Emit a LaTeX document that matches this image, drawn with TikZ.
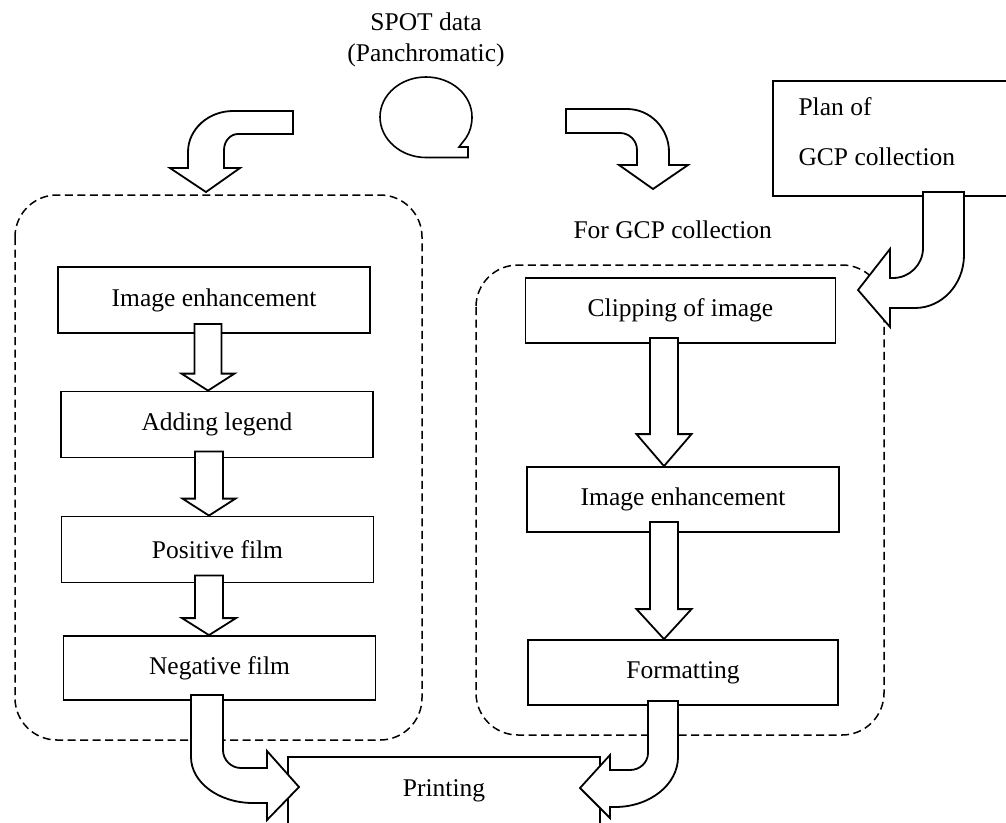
\documentclass[tikz,border=0pt]{standalone}
\usepackage{fontspec}
\setmainfont{Liberation Serif}
\usetikzlibrary{calc}

\newcommand\boxfont{\fontsize{25.5}{31}\selectfont}

\tikzset{
  stepbox/.style={draw, line width=1.8pt, fill=white, minimum width=312pt,
    minimum height=66pt, font=\boxfont, inner sep=0pt},
  groupframe/.style={draw, line width=1.5pt, dash pattern=on 8pt off 4.5pt,
    rounded corners=42pt},
  blockarrow/.style={draw, line width=1.8pt, fill=white, line join=miter},
  tapeline/.style={draw, line width=1.6pt, fill=white},
}

% Straight block arrow pointing down from one box to the next.
% #1 x position, #2 source node, #3 target node, #4 half shaft width,
% #5 half head width, #6 head length, #7 overlap into the source box
\newcommand\downblock[7]{%
  \coordinate (bx) at (#1,0);
  \draw[blockarrow]
    ($(bx |- #2.south)+(-#4,-#7)$)
    -- ($(bx |- #3.north)+(-#4,-#6)$)
    -- ++({#4-#5},0)
    -- (bx |- #3.north)
    -- ++({#5},{-#6})
    -- ++({#4-#5},0)
    -- ($(bx |- #2.south)+(#4,-#7)$) -- cycle;}

\begin{document}
\begin{tikzpicture}[x=1pt, y=-1pt]
\fill[white] (0,0) rectangle (1006,822);
\useasboundingbox (0,0) rectangle (1006,822);
\clip (0,0) rectangle (1006,822);

% data source
\node[font=\boxfont, align=center] (spot) at (426,39.5) {SPOT data\\(Panchromatic)};
\draw[tapeline] (426,157.5) .. controls (400.6,157.5) and (380,139.1) .. (380,117)
  .. controls (380,94.9) and (400.6,77) .. (426,77)
  .. controls (451.4,77) and (472,94.9) .. (472,117)
  .. controls (472,125) and (470,132) .. (466,138)
  -- (459,147) -- (468,147) -- (468,157.5) -- cycle;

% processing groups
\draw[groupframe] (15,195) rectangle (422,740);
\draw[groupframe] (476,265) rectangle (884,735);

% left chain
\node[stepbox] (le1) at (214,300) {Image enhancement};
\node[stepbox] (le2) at (217,424.5) {Adding legend};
\node[stepbox] (le3) at (217.5,549.5) {Positive film};
\node[stepbox, minimum height=64pt] (le4) at (219.5,668) {Negative film};

% right chain
\node[font=\boxfont, anchor=west] (gcp) at (570,230) {For GCP collection};
\node[stepbox, minimum width=310pt, minimum height=65pt] (r1) at (680.5,310.5) {Clipping of image};
\node[stepbox, minimum width=312pt, minimum height=65pt] (r2) at (683,499.5) {Image enhancement};
\node[stepbox, minimum width=310pt, minimum height=65pt] (r3) at (683,672.5) {Formatting};

% output
\node[stepbox, minimum height=67pt] (print) at (444,790.5) {Printing};

% plan
\node[draw, line width=1.8pt, fill=white, minimum width=260pt, minimum height=115pt,
  anchor=north west] (plan) at (772,80) {};
\node[font=\fontsize{25.5}{50}\selectfont, align=left, anchor=west] (plantext)
  at (795,132) {Plan of\\GCP collection};

% straight block arrows
\downblock{208}{le1}{le2}{13.5}{26.5}{17}{10}
\downblock{209}{le2}{le3}{14}{26.5}{17}{7}
\downblock{209}{le3}{le4}{14}{27}{17}{8}
\downblock{664}{r1}{r2}{14}{27.5}{32}{6}
\downblock{664}{r2}{r3}{14}{27.5}{30}{11}

% bent arrow: source to left chain
\draw[blockarrow] (293,111) -- (293,134) -- (238,134)
  .. controls (230.3,134) and (224,141.2) .. (224,150) -- (224,168)
  -- (240,168) -- (206,192) -- (170,168) -- (188,168) -- (188,152)
  .. controls (188,129.4) and (208.2,111) .. (233,111) -- cycle;

% bent arrow: source to right chain
\draw[blockarrow] (566,109) -- (566,133) -- (620,133)
  .. controls (629.4,133) and (637,140.6) .. (637,150) -- (637,165)
  -- (619,165) -- (653,189) -- (688,165) -- (669,165) -- (669,152)
  .. controls (669,128.3) and (650.2,109) .. (627,109) -- cycle;

% bent arrow: plan to right chain
\draw[blockarrow] (923,192) -- (923,248)
  .. controls (923,264.6) and (909.6,278) .. (893,278) -- (890,278)
  -- (890,249) -- (858,290) -- (890,327) -- (890,308) -- (915,308)
  .. controls (942,308) and (964,284.3) .. (964,255) -- (964,192) -- cycle;

% bent arrow: negative film to printing
\draw[blockarrow] (223,695) -- (223,750)
  .. controls (223,759.9) and (231.1,768) .. (241,768) -- (267,768)
  -- (267,751) -- (299,787) -- (267,820) -- (267,803) -- (253,803)
  .. controls (218.8,803) and (191,782.4) .. (191,757) -- (191,695) -- cycle;

% bent arrow: formatting to printing
\draw[blockarrow] (648,701) -- (648,753)
  .. controls (648,762.4) and (639.9,770) .. (630,770) -- (610,770)
  -- (610,755) -- (580,788) -- (610,818) -- (610,807) -- (615,807)
  .. controls (649.8,807) and (678,784.6) .. (678,757) -- (678,701) -- cycle;
\end{tikzpicture}
\end{document}
